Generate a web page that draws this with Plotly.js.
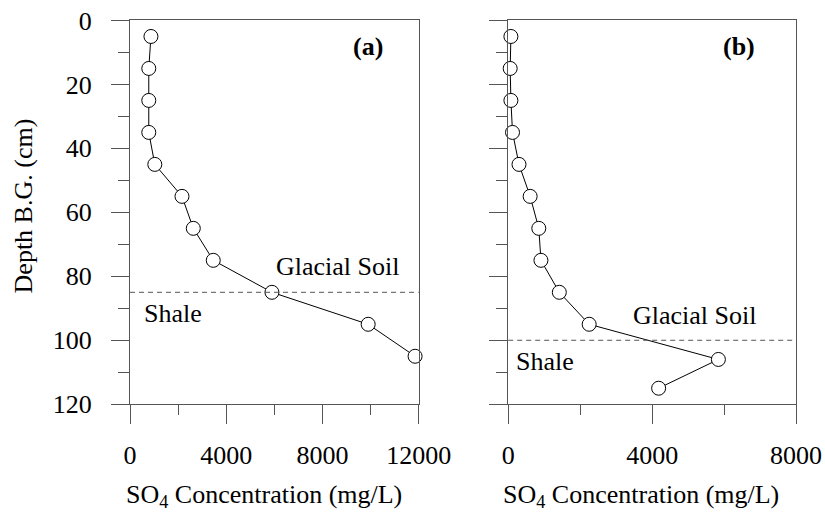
<!DOCTYPE html>
<html>
<head>
<meta charset="utf-8">
<script src="https://cdn.plot.ly/plotly-3.0.1.min.js"></script>
<style>
  html, body { margin: 0; padding: 0; background: #fff; }
  #chart { width: 825px; height: 512px; }
</style>
</head>
<body>
<div id="chart"></div>
<script>
// Sulfate profiles below ground, two sites: (a) and (b)
const depthA = [5, 15, 25, 35, 45, 55, 65, 75, 85, 95, 105];
const so4A   = [870, 780, 780, 780, 1030, 2160, 2630, 3460, 5900, 9900, 11850];

const depthB = [5, 15, 25, 35, 45, 55, 65, 75, 85, 95, 106, 115];
const so4B   = [75, 55, 75, 120, 300, 610, 850, 910, 1420, 2250, 5840, 4180];

// Depth of the glacial soil / shale contact at each site (cm)
const contactA = 85;
const contactB = 100;

const depthTicks = [0, 20, 40, 60, 80, 100, 120];
const xTicksA = [0, 4000, 8000, 12000];
const xTicksB = [0, 4000, 8000];

const FONT = '"Liberation Serif", "Times New Roman", serif';
const AXC = '#555';

function txt(size) {
  return { family: FONT, size: size, color: '#000' };
}

function label(text, xref, yref, x, y, size, extra) {
  return Object.assign({
    text: text, xref: xref, yref: yref, x: x, y: y,
    xanchor: 'center', yanchor: 'middle',
    showarrow: false, font: txt(size)
  }, extra || {});
}

function profile(x, y, xa, ya) {
  return {
    x: x, y: y, xaxis: xa, yaxis: ya,
    type: 'scatter', mode: 'lines+markers',
    cliponaxis: false,
    line: { color: '#000', width: 1 },
    marker: { symbol: 'circle', size: 14, color: '#fff', line: { color: '#000', width: 1 } },
    hoverinfo: 'x+y'
  };
}

function xAxis(domain, range, ticks, anchor) {
  return {
    domain: domain, range: range, anchor: anchor,
    tickmode: 'array', tickvals: ticks, ticktext: ticks.map(String),
    ticks: 'outside', ticklen: 19, tickwidth: 1, tickcolor: AXC,
    minor: { ticks: 'outside', ticklen: 10, tickwidth: 1, tickcolor: AXC, dtick: 2000, tick0: 0 },
    showline: true, linecolor: AXC, linewidth: 1, mirror: true,
    showgrid: false, zeroline: false,
    tickfont: txt(26),
    ticklabelstandoff: 9
  };
}

function yAxis(domain, anchor, labels) {
  return {
    domain: domain, range: [120, 0], anchor: anchor,
    tickmode: 'array', tickvals: depthTicks, ticktext: depthTicks.map(String),
    showticklabels: labels,
    ticks: 'outside', ticklen: 18, tickwidth: 1, tickcolor: AXC,
    minor: { ticks: 'outside', ticklen: 11, tickwidth: 1, tickcolor: AXC, dtick: 10, tick0: 0 },
    showline: true, linecolor: AXC, linewidth: 1, mirror: true,
    showgrid: false, zeroline: false,
    tickfont: txt(26),
    ticklabelstandoff: 14
  };
}

const yDom = [0.2105, 0.96];
const xTitle = 'SO<sub>4</sub> Concentration (mg/L)';

const layout = {
  width: 825, height: 512,
  margin: { l: 0, r: 0, t: 0, b: 0 },
  paper_bgcolor: '#fff', plot_bgcolor: '#fff',
  showlegend: false,
  font: txt(26),
  xaxis: xAxis([0.1576, 0.5075], [0, 12000], xTicksA, 'y'),
  yaxis: yAxis(yDom, 'x', true),
  xaxis2: xAxis([0.616, 0.965], [0, 8000], xTicksB, 'y2'),
  yaxis2: yAxis(yDom, 'x2', false),
  shapes: [
    { type: 'line', xref: 'x domain', yref: 'y', x0: 0, x1: 1, y0: contactA, y1: contactA,
      line: { color: AXC, width: 1, dash: '5px,4px' } },
    { type: 'line', xref: 'x2 domain', yref: 'y2', x0: 0, x1: 1, y0: contactB, y1: contactB,
      line: { color: AXC, width: 1, dash: '5px,4px' } }
  ],
  annotations: [
    label('Depth B.G. (cm)', 'paper', 'paper', 0.028, 0.597, 26, { textangle: -90 }),
    label(xTitle, 'paper', 'paper', 0.3194, 0, 26, { yanchor: 'bottom', yshift: -2 }),
    label(xTitle, 'paper', 'paper', 0.7764, 0, 26, { yanchor: 'bottom', yshift: -2 }),
    label('<b>(a)</b>', 'x domain', 'paper', 0.8245, 1 - 46.7 / 512, 26),
    label('<b>(b)</b>', 'x2 domain', 'paper', 0.8, 1 - 46.7 / 512, 26),
    label('Glacial Soil', 'x', 'y', 8620, 77, 26),
    label('Shale', 'x', 'y', 1770, 91.5, 26),
    label('Glacial Soil', 'x2', 'y2', 5180, 92.2, 26),
    label('Shale', 'x2', 'y2', 1020, 106.6, 26)
  ]
};

Plotly.newPlot('chart', [
  profile(so4A, depthA, 'x', 'y'),
  profile(so4B, depthB, 'x2', 'y2')
], layout, { staticPlot: true, displayModeBar: false });
</script>
</body>
</html>
